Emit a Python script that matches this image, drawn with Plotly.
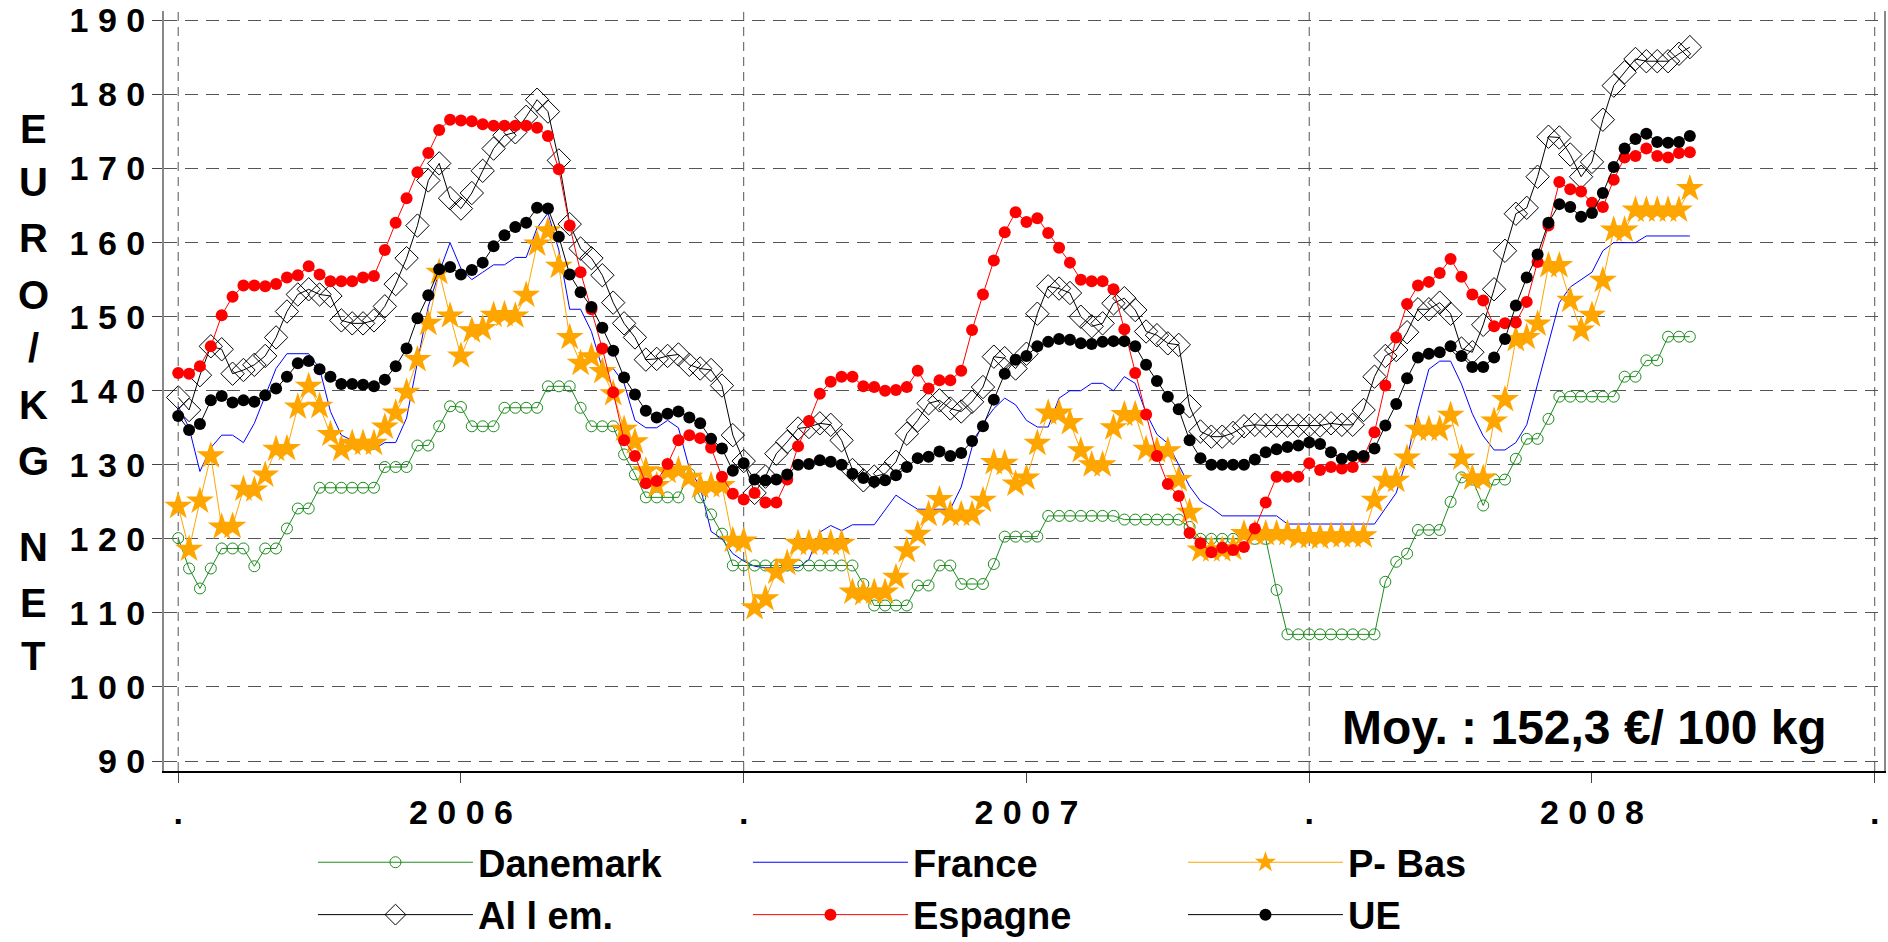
import plotly.graph_objects as go

# ---------------------------------------------------------------------------
# Weekly pig prices, EUR / 100 kg net, week 0 = first week of 2006
# ---------------------------------------------------------------------------
DANEMARK = [
    120.1, 116.0, 113.3, 116.0, 118.7, 118.7, 118.7, 116.3, 118.7, 118.7,
    121.4, 124.1, 124.1, 126.9, 126.9, 126.9, 126.9, 126.9, 126.9, 129.7,
    129.7, 129.7, 132.6, 132.6, 135.2, 137.9, 137.8, 135.2, 135.2, 135.2,
    137.7, 137.7, 137.7, 137.7, 140.6, 140.6, 140.6, 137.7, 135.2, 135.2,
    135.2, 131.4, 128.7, 125.6, 125.6, 125.6, 125.6, 128.8, 125.6, 123.3,
    120.7, 116.4, 116.4, 116.4, 116.4, 116.4, 116.4, 116.4, 116.4, 116.4,
    116.4, 116.4, 116.4, 113.9, 111.0, 111.0, 111.0, 111.0, 113.7, 113.7,
    116.4, 116.4, 113.9, 113.9, 113.9, 116.6, 120.3, 120.3, 120.3, 120.3,
    123.1, 123.1, 123.1, 123.1, 123.1, 123.1, 123.1, 122.6, 122.6, 122.6,
    122.6, 122.6, 122.6, 121.6, 120.0, 120.0, 120.0, 120.0, 120.0, 120.0,
    120.0, 113.1, 107.1, 107.1, 107.1, 107.1, 107.1, 107.1, 107.1, 107.1,
    107.1, 114.2, 116.9, 118.0, 121.2, 121.2, 121.2, 125.0, 128.3, 128.0,
    124.5, 128.0, 128.0, 130.8, 133.5, 133.5, 136.2, 139.2, 139.2, 139.2,
    139.2, 139.2, 139.2, 141.9, 141.9, 144.1, 144.1, 147.3, 147.3, 147.3,
]
FRANCE = [
    137.9, 135.0, 129.1, 132.3, 134.0, 134.0, 133.0, 135.6, 139.3, 143.0,
    145.0, 145.0, 145.0, 143.0, 137.2, 134.0, 133.3, 132.8, 132.1, 133.0,
    133.0, 136.3, 144.0, 151.4, 156.0, 160.0, 156.5, 155.0, 156.0, 157.0,
    157.0, 158.0, 158.0, 162.0, 164.0, 159.0, 151.0, 151.0, 148.0, 143.0,
    143.0, 141.0, 136.0, 135.0, 135.0, 136.0, 135.0, 129.5, 127.0, 121.0,
    120.0, 118.0, 117.0, 116.3, 116.1, 116.1, 116.1, 116.1, 117.2, 120.9,
    121.8, 121.1, 121.9, 121.9, 121.9, 123.9, 125.9, 124.9, 124.0, 124.0,
    124.0, 124.0, 127.0, 132.4, 135.6, 137.6, 139.0, 138.1, 136.0, 135.1,
    135.1, 139.0, 140.0, 140.0, 141.0, 141.0, 140.0, 141.9, 141.0, 137.0,
    134.1, 132.9, 130.0, 127.1, 125.1, 124.2, 123.1, 123.1, 123.1, 123.1,
    123.1, 123.1, 122.0, 122.0, 122.0, 122.0, 122.0, 122.0, 122.0, 122.0,
    122.0, 124.1, 126.2, 130.9, 137.4, 142.9, 144.0, 144.0, 140.9, 136.9,
    133.9, 132.0, 132.0, 133.0, 135.4, 140.9, 146.4, 151.9, 154.0, 155.0,
    156.0, 158.9, 160.0, 160.0, 160.0, 160.9, 160.9, 160.9, 160.9, 160.9,
]
P_BAS = [
    124.4, 118.6, 125.1, 131.2, 121.6, 121.7, 126.7, 126.6, 128.6, 132.1,
    132.2, 137.8, 140.6, 137.9, 134.1, 132.1, 132.9, 132.9, 132.9, 135.1,
    137.0, 139.8, 144.2, 149.1, 156.0, 150.1, 144.7, 148.1, 148.4, 150.2,
    150.3, 150.1, 152.9, 159.8, 161.6, 156.8, 147.2, 143.7, 144.6, 142.6,
    139.6, 134.8, 133.1, 129.2, 127.2, 129.1, 129.3, 128.3, 127.1, 127.2,
    127.2, 119.8, 119.7, 110.7, 111.9, 115.5, 116.7, 119.4, 119.4, 119.4,
    119.4, 119.4, 112.8, 112.6, 112.8, 112.8, 114.8, 118.4, 120.6, 123.3,
    125.3, 123.3, 123.3, 123.3, 125.2, 130.3, 130.2, 127.4, 128.2, 132.9,
    137.0, 137.0, 135.7, 131.9, 130.0, 130.0, 135.0, 136.8, 136.8, 132.1,
    131.9, 131.9, 128.0, 123.6, 118.5, 118.5, 118.5, 118.7, 120.7, 120.7,
    120.7, 120.7, 120.7, 120.3, 120.3, 120.2, 120.4, 120.4, 120.4, 120.4,
    125.2, 127.9, 127.9, 130.9, 134.8, 134.8, 134.8, 136.7, 130.9, 128.2,
    128.2, 135.9, 138.8, 146.9, 147.2, 149.0, 156.9, 156.9, 152.2, 148.2,
    150.2, 154.9, 161.7, 161.7, 164.4, 164.4, 164.4, 164.4, 164.4, 167.3,
]
ALLEM = [
    139.1, 137.4, 142.1, 146.0, 145.6, 142.3, 142.8, 143.5, 144.7, 147.2,
    150.7, 153.0, 153.7, 153.0, 152.8, 149.5, 149.1, 149.1, 149.5, 151.4,
    154.4, 157.9, 162.3, 168.4, 170.7, 166.0, 164.6, 166.7, 169.7, 172.7,
    174.5, 174.9, 177.0, 179.3, 177.7, 171.1, 162.5, 159.2, 157.9, 155.6,
    151.9, 149.1, 147.2, 144.2, 144.3, 144.7, 144.9, 143.5, 143.0, 142.8,
    140.7, 134.0, 130.5, 126.2, 128.4, 131.5, 133.1, 134.9, 135.1, 135.6,
    135.4, 133.3, 129.3, 127.9, 128.4, 128.8, 130.4, 134.2, 136.0, 138.3,
    138.7, 137.6, 137.2, 138.5, 140.5, 144.6, 144.4, 143.0, 145.0, 150.4,
    154.1, 153.8, 153.2, 150.0, 148.7, 149.1, 151.8, 152.5, 150.9, 148.0,
    147.5, 146.4, 146.2, 137.9, 134.5, 133.8, 133.8, 134.3, 135.2, 135.4,
    135.3, 135.3, 135.3, 135.3, 135.3, 135.3, 135.6, 135.4, 135.4, 137.4,
    141.9, 144.7, 145.5, 147.9, 151.0, 151.0, 151.9, 150.4, 145.7, 145.2,
    148.9, 153.7, 158.9, 163.9, 164.7, 168.9, 174.3, 174.2, 171.9, 168.9,
    170.9, 176.6, 181.2, 183.0, 184.8, 184.5, 184.5, 184.5, 185.5, 186.4,
]
ESPAGNE = [
    142.4, 142.3, 143.3, 146.0, 150.2, 152.7, 154.2, 154.2, 154.1, 154.4,
    155.3, 155.6, 156.8, 155.7, 154.8, 154.8, 154.8, 155.3, 155.5, 159.0,
    162.7, 166.0, 169.5, 172.1, 175.2, 176.6, 176.5, 176.4, 176.0, 175.8,
    175.8, 175.8, 175.8, 175.5, 174.4, 169.9, 162.3, 156.0, 151.0, 145.7,
    139.8, 133.3, 131.2, 127.5, 127.8, 130.1, 133.3, 134.0, 133.6, 132.3,
    128.4, 126.1, 125.3, 126.2, 124.9, 124.9, 128.0, 132.5, 135.9, 139.6,
    141.2, 141.9, 141.9, 140.6, 140.5, 140.0, 140.1, 140.5, 142.7, 140.3,
    141.4, 141.4, 142.7, 148.2, 153.0, 157.6, 161.4, 164.1, 162.8, 163.3,
    161.3, 159.3, 157.3, 155.0, 154.8, 154.8, 153.7, 148.3, 142.4, 136.8,
    131.2, 127.4, 125.8, 120.8, 119.4, 118.2, 118.8, 118.5, 118.9, 121.4,
    124.9, 128.4, 128.4, 128.4, 130.2, 129.3, 129.7, 129.5, 129.7, 131.0,
    134.4, 140.7, 147.2, 151.7, 154.2, 154.7, 155.9, 157.8, 155.4, 153.0,
    152.2, 148.7, 149.1, 149.2, 152.0, 157.4, 162.3, 168.2, 167.2, 166.9,
    165.4, 164.8, 168.5, 171.5, 171.7, 172.7, 171.7, 171.5, 172.1, 172.2,
]
UE = [
    136.6, 134.7, 135.5, 138.7, 139.3, 138.4, 138.7, 138.5, 139.4, 140.3,
    141.9, 143.7, 144.0, 142.9, 141.9, 140.9, 140.9, 140.8, 140.6, 141.5,
    143.3, 145.7, 149.8, 152.9, 156.4, 156.7, 155.7, 156.3, 157.3, 159.5,
    161.0, 162.1, 162.7, 164.7, 164.6, 160.8, 155.7, 153.3, 151.3, 148.5,
    145.4, 141.8, 139.5, 137.3, 136.4, 136.9, 137.2, 136.4, 135.6, 133.5,
    132.2, 129.2, 130.2, 128.0, 127.9, 128.0, 128.7, 130.0, 130.1, 130.6,
    130.4, 130.0, 128.8, 128.2, 127.7, 127.9, 128.6, 129.7, 130.9, 131.1,
    131.8, 131.2, 131.6, 133.2, 135.2, 138.8, 142.3, 144.2, 144.7, 146.0,
    146.6, 147.0, 146.9, 146.4, 146.3, 146.6, 146.7, 146.7, 146.0, 143.5,
    141.3, 139.2, 137.5, 133.3, 130.9, 130.0, 130.0, 130.0, 130.0, 130.7,
    131.7, 132.1, 132.4, 132.6, 133.0, 132.8, 131.7, 130.8, 131.2, 131.2,
    132.2, 135.3, 138.2, 141.7, 144.5, 145.0, 145.2, 146.0, 144.7, 143.2,
    143.2, 144.5, 147.0, 151.5, 155.3, 158.4, 162.7, 165.2, 164.8, 163.5,
    164.0, 166.7, 170.2, 172.7, 174.0, 174.7, 173.6, 173.5, 173.6, 174.4,
]

X_TICKS = [0, 0.5, 1, 1.5, 2, 2.5, 3]
X_LABELS = [".", "2 0 0 6", ".", "2 0 0 7", ".", "2 0 0 8", "."]
Y_TICKS = list(range(90, 191, 10))
Y_LABELS = [" ".join(str(v)) for v in Y_TICKS]
AVERAGE_TEXT = "Moy. : 152,3 €/ 100 kg"

# x in years from 1 Jan 2006, one point per week
WEEKS = [w / 52 for w in range(len(UE))]

FONT = "Liberation Sans"
GRID = "#555555"

fig = go.Figure()

# drawing order (bottom -> top); legend order set with legendrank
series = [
    ("France", FRANCE, dict(mode="lines", line=dict(color="#0000ff", width=1)), 2),
    ("Danemark", DANEMARK, dict(
        mode="lines+markers", line=dict(color="#1e8c1e", width=1),
        marker=dict(symbol="circle-open", size=11, color="#1e8c1e", line=dict(width=1))), 1),
    ("Al l em.", ALLEM, dict(
        mode="lines+markers", line=dict(color="black", width=1),
        marker=dict(symbol="diamond-open", size=18, color="black", line=dict(width=1))), 4),
    ("P- Bas", P_BAS, dict(
        mode="lines+markers", line=dict(color="#ffa500", width=1),
        marker=dict(symbol="star", size=21, color="#ffa500", line=dict(width=0))), 3),
    ("Espagne", ESPAGNE, dict(
        mode="lines+markers", line=dict(color="#ff0000", width=1),
        marker=dict(symbol="circle", size=12, color="#ff0000")), 5),
    ("UE", UE, dict(
        mode="lines+markers", line=dict(color="black", width=1),
        marker=dict(symbol="circle", size=12, color="black")), 6),
]
for name, values, style, rank in series:
    fig.add_trace(go.Scatter(x=WEEKS, y=values, name=name, legendrank=rank,
                             cliponaxis=False, **style))

# vertical dashed grid at year boundaries
for xv in X_TICKS[::2]:
    fig.add_shape(type="line", xref="x", yref="paper", x0=xv, x1=xv, y0=0, y1=1,
                  line=dict(color=GRID, width=1, dash="9px,6px"), layer="below")

# y-axis title, one upright letter per line (rows in page pixels)
title_letters = ["E", "U", "R", "O", "/", "K", "G", "N", "E", "T"]
title_rows = [129, 182, 238, 295, 348, 405, 461, 547, 603, 656]
for letter, row in zip(title_letters, title_rows):
    fig.add_annotation(text=letter, xref="paper", yref="paper",
                       x=(33 - 164) / 1720, y=(771 - row) / 760,
                       xanchor="center", yanchor="middle", showarrow=False,
                       font=dict(family=FONT, size=40, color="black", weight="bold"))

fig.add_annotation(text=AVERAGE_TEXT, xref="paper", yref="paper",
                   x=0.826, y=0.0566, xanchor="center", yanchor="middle",
                   showarrow=False,
                   font=dict(family=FONT, size=48, color="black", weight="bold"))

fig.update_layout(
    width=1888, height=942,
    margin=dict(l=164, r=4, t=11, b=171, autoexpand=False),
    paper_bgcolor="white", plot_bgcolor="white",
    font=dict(family=FONT, color="black"),
    legend=dict(
        orientation="h", x=0.0866, y=-0.079, xanchor="left", yanchor="top",
        entrywidth=265, entrywidthmode="pixels", itemwidth=155,
        font=dict(family=FONT, size=38, color="black", weight="bold"),
        bgcolor="rgba(0,0,0,0)", traceorder="normal",
    ),
    xaxis=dict(
        range=[-0.0251, 3.0164], tickmode="array",
        tickvals=X_TICKS, ticktext=X_LABELS,
        ticks="outside", ticklen=10, tickcolor="#444", tickwidth=1,
        showgrid=False, zeroline=False,
        showline=True, linecolor="black", linewidth=1.5,
        tickfont=dict(family=FONT, size=34, color="black", weight="bold"),
    ),
    yaxis=dict(
        range=[88.65, 191.28], tickmode="array",
        tickvals=Y_TICKS, ticktext=Y_LABELS, ticklabeloverflow="allow",
        ticks="outside", ticklen=10, tickcolor="#444", tickwidth=1,
        showgrid=True, gridcolor=GRID, gridwidth=1, griddash="13px,8px",
        zeroline=False, showline=True, linecolor="#888", linewidth=2, mirror=True,
        tickfont=dict(family=FONT, size=34, color="black", weight="bold"),
    ),
)

# drop the default 8px body margin so the figure fills the window exactly
fig.write_html("out.html", config={"displayModeBar": False},
               post_script="document.body.style.margin = '0';")
